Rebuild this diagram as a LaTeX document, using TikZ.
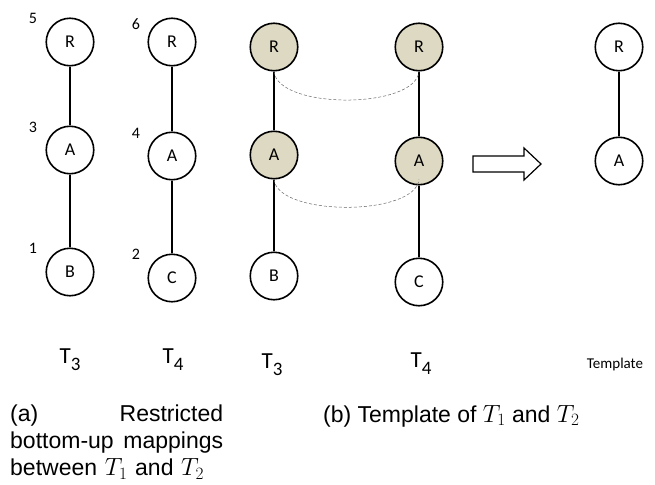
\documentclass[tikz,border=0pt]{standalone}
\usepackage{fontspec}
\setmainfont{Liberation Sans}
\newfontfamily\calib{Carlito}
\usetikzlibrary{positioning}
\definecolor{mapfill}{RGB}{221,217,195}
\tikzset{vert/.style={circle,draw=black,line width=1.6pt,minimum size=47.5pt,inner sep=0pt,font=\calib\fontsize{18}{18}\selectfont},
  mapped/.style={vert,fill=mapfill},
  tedge/.style={line width=1.8pt},
  num/.style={font=\calib\fontsize{16}{16}\selectfont},
  tname/.style={anchor=base,font=\calib\fontsize{23}{23}\selectfont},
  match/.style={densely dashed,black!60,line width=0.5pt}}
\newcommand{\tsub}[1]{T\raisebox{-7pt}{\fontsize{19}{19}\selectfont #1}}

\begin{document}
\begin{tikzpicture}[x=1pt,y=-1pt]
\useasboundingbox (0,0) rectangle (655,484);
% first tree
\node[vert] (r1) at (70,42) {R};
\node[vert] (a1) at (70,150) {A};
\node[vert] (b1) at (70,272) {B};
\node[num] (n5) at (33,18) {5};
\node[num] (n3) at (33,127) {3};
\node[num] (n1) at (33,248) {1};
\draw[tedge] (r1) -- (a1) -- (b1);
% second tree
\node[vert] (r2) at (172,42) {R};
\node[vert] (a2) at (172,156) {A};
\node[vert] (c2) at (172,278) {C};
\node[num] (n6) at (136,24) {6};
\node[num] (n4) at (136,133) {4};
\node[num] (n2) at (136,254) {2};
\draw[tedge] (r2) -- (a2) -- (c2);
% mapped pair
\node[mapped] (r3) at (274,47) {R};
\node[mapped] (a3) at (274,155) {A};
\node[vert] (b3) at (274,276) {B};
\draw[tedge] (r3) -- (a3) -- (b3);
\node[mapped] (r4) at (419,47) {R};
\node[mapped] (a4) at (419,161) {A};
\node[vert] (c4) at (419,282) {C};
\draw[tedge] (r4) -- (a4) -- (c4);
\draw[match] (r3.south) .. controls +(4,38) and +(-4,38) .. (r4.south);
\draw[match] (a3.south) .. controls +(4,37) and +(-4,37) .. ([yshift=6pt]a4.south);
% block arrow
\draw[line width=1.2pt,fill=white] (473,156) -- (524,156) -- (524,148) -- (541,164)
  -- (524,180) -- (524,172) -- (473,172) -- cycle;
% template
\node[vert] (r5) at (619,47) {R};
\node[vert] (a5) at (619,161) {A};
\draw[tedge] (r5) -- (a5);
% tree names
\node[tname] (t1) at (70,363) {\tsub{3}};
\node[tname] (t2) at (173,363) {\tsub{4}};
\node[tname] (t3) at (272,368) {\tsub{3}};
\node[tname] (t4) at (421,367) {\tsub{4}};
\node[anchor=base,font=\calib\fontsize{15}{15}\selectfont] (tpl) at (615,368) {Template};
% captions
\node[anchor=north west,align=left,text width=213pt,inner sep=0pt,font=\fontsize{23}{27}\selectfont] (capa) at (10,405)
  {(a)\hfill Restricted\\ bottom-up\hfill mappings\\ between $T_1$ and $T_2$};
\node[anchor=base west,inner sep=0pt,font=\fontsize{23}{27}\selectfont] (capb) at (323,422)
  {(b) Template of $T_1$ and $T_2$};
\end{tikzpicture}
\end{document}
